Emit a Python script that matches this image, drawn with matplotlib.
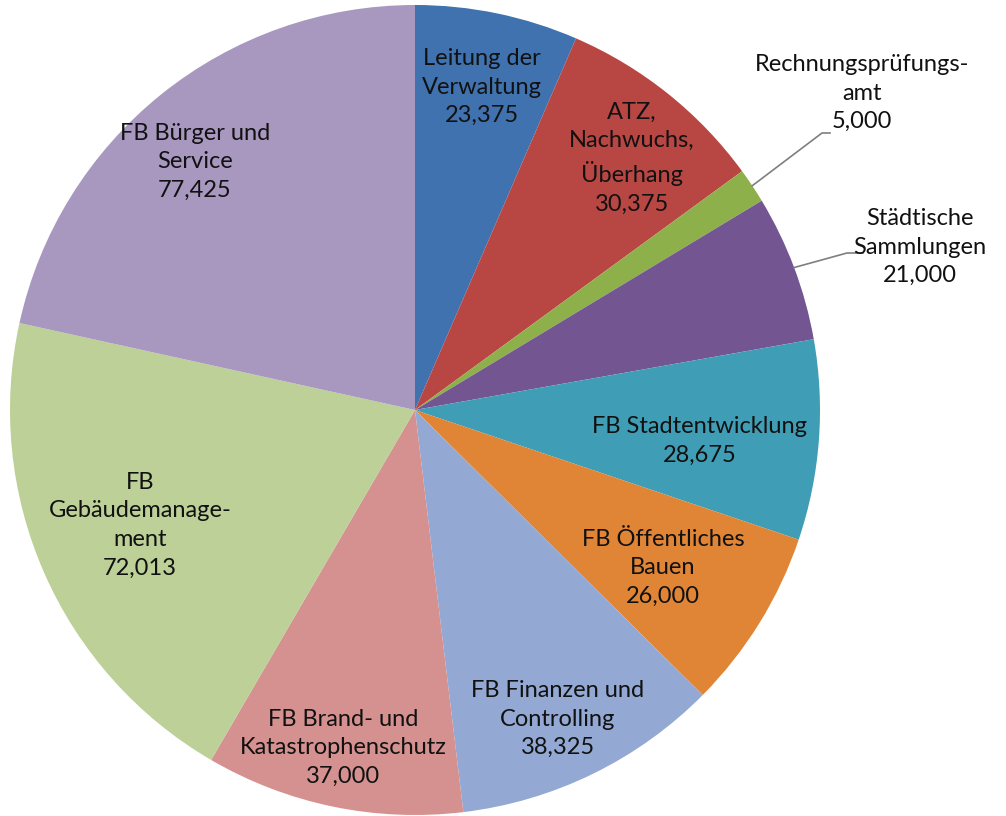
import matplotlib
matplotlib.use("Agg")
import matplotlib.pyplot as plt
import numpy as np

categories = [
    "Leitung der\nVerwaltung",
    "ATZ,\nNachwuchs,\nÜberhang",
    "Rechnungsprüfungs-\namt",
    "Städtische\nSammlungen",
    "FB Stadtentwicklung",
    "FB Öffentliches\nBauen",
    "FB Finanzen und\nControlling",
    "FB Brand- und\nKatastrophenschutz",
    "FB\nGebäudemanage-\nment",
    "FB Bürger und\nService",
]
values = [23375, 30375, 5000, 21000, 28675, 26000, 38325, 37000, 72013, 77425]
colors = ["#3F72AF", "#B84744", "#8DB04A", "#735592", "#3F9DB5",
          "#E08536", "#93A9D4", "#D49190", "#BCD097", "#A898C0"]

# label centre positions in figure pixels (x, y from top)
label_pos = [(482, 87), (632, 158), (862, 93), (920, 247), (700, 441),
             (663, 568), (558, 719), (343, 748), (140, 525), (195, 162)]
outside = [False, False, True, True, False, False, False, False, False, False]

W, H = 1006, 816
fig = plt.figure(figsize=(W / 100, H / 100), dpi=100)
fig.patch.set_facecolor("white")
ax = fig.add_axes([0, 0, 1, 1])

cx, cy, R = 415, H - 410, 405
wedges, _ = ax.pie(values, colors=colors, startangle=90, counterclock=False,
                   center=(cx, cy), radius=R,
                   wedgeprops=dict(linewidth=0))
ax.set_xlim(0, W)
ax.set_ylim(0, H)
ax.set_aspect("equal")
ax.axis("off")

font = ["Lato", "DejaVu Sans"]
for i, (name, v) in enumerate(zip(categories, values)):
    px, py = label_pos[i]
    ty = H - py
    txt = f"{name}\n{v:,}"
    ax.text(px, ty, txt, ha="center", va="center", fontsize=17,
            family=font, color="#111111", linespacing=1.45)
    if outside[i]:
        w = wedges[i]
        mid = np.deg2rad((w.theta1 + w.theta2) / 2)
        x0 = cx + R * np.cos(mid)
        y0 = cy + R * np.sin(mid)
        if i == 2:
            x1, y1, x2 = 822, H - 133, 830
        else:
            x1, y1, x2 = 847, H - 253, 863
        ax.plot([x0, x1, x2], [y0, y1, y1], color="#7f7f7f", lw=1.2)

fig.savefig("out.png", dpi=100, facecolor="white")
